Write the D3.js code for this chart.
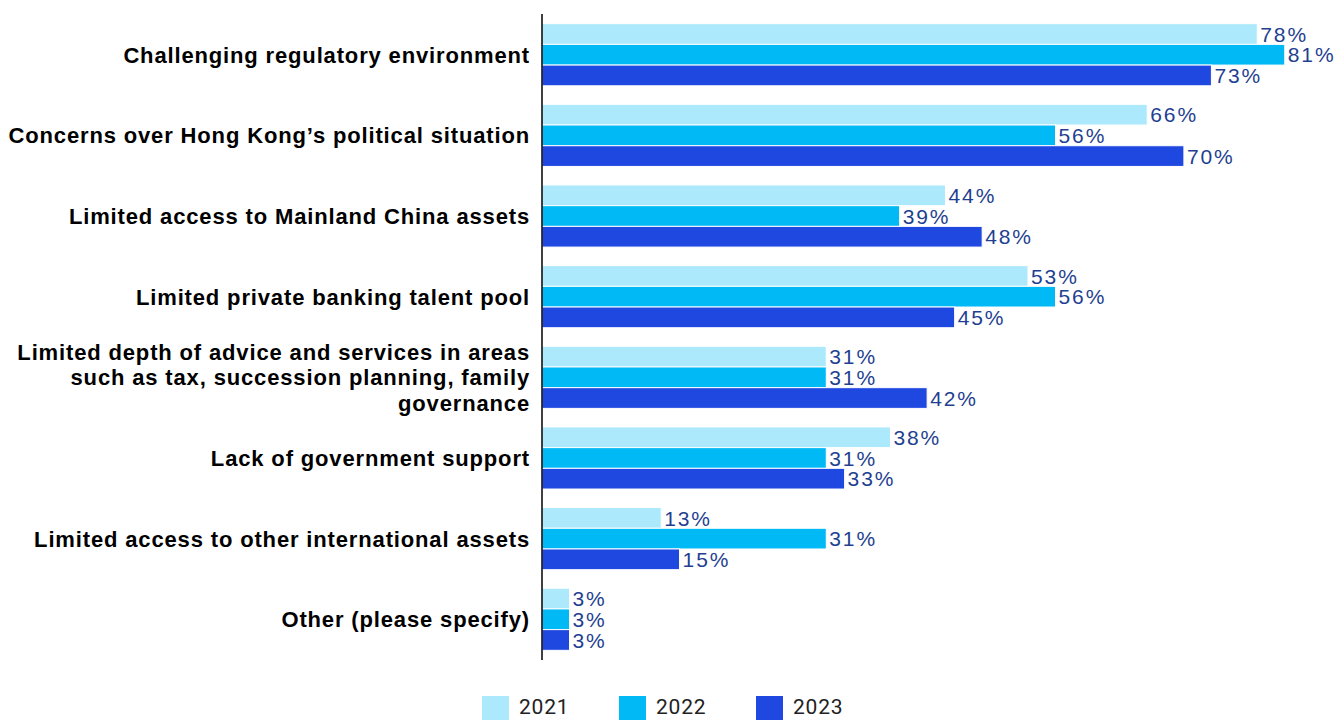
<!DOCTYPE html>
<html>
<head>
<meta charset="utf-8">
<script src="https://cdn.jsdelivr.net/npm/d3@7"></script>
<style>
  html, body { margin: 0; padding: 0; background: #ffffff; }
  svg { display: block; }
</style>
</head>
<body>
<svg id="chart" width="1340" height="720"></svg>
<script>
// Barriers to private banking growth in Hong Kong, share of respondents by survey year
const categories = [
  ["Challenging regulatory environment"],
  ["Concerns over Hong Kong\u2019s political situation"],
  ["Limited access to Mainland China assets"],
  ["Limited private banking talent pool"],
  ["Limited depth of advice and services in areas", "such as tax, succession planning, family", "governance"],
  ["Lack of government support"],
  ["Limited access to other international assets"],
  ["Other (please specify)"]
];
const years = ["2021", "2022", "2023"];
const values2021 = [78, 66, 44, 53, 31, 38, 13, 3];
const values2022 = [81, 56, 39, 56, 31, 31, 31, 3];
const values2023 = [73, 70, 48, 45, 42, 33, 15, 3];
const seriesColors = ["#ade9fd", "#00b9f5", "#1f48e0"];

const series = [values2021, values2022, values2023];
const svg = d3.select("#chart");

const axisX = 542;
const x = d3.scaleLinear().domain([0, 100]).range([axisX, axisX + 917]);
const y = d3.scaleBand()
  .domain(d3.range(categories.length))
  .range([14, 660])
  .paddingInner(0.23)
  .paddingOuter(0.12);
const ySub = d3.scaleBand()
  .domain(years)
  .range([0, y.bandwidth()]);

const groups = svg.append("g").selectAll("g")
  .data(categories)
  .join("g")
  .attr("transform", (d, i) => `translate(0,${y(i)})`);

// bars with value labels at their ends
groups.each(function (cat, i) {
  const g = d3.select(this);
  years.forEach((yr, s) => {
    const v = series[s][i];
    g.append("rect")
      .attr("x", x(0))
      .attr("y", ySub(yr))
      .attr("width", x(v) - x(0))
      .attr("height", ySub.bandwidth())
      .attr("fill", seriesColors[s])
      .attr("stroke", "#ffffff")
      .attr("stroke-width", 1);
    g.append("text")
      .attr("x", x(v) + 3)
      .attr("y", ySub(yr) + ySub.bandwidth() / 2)
      .attr("dy", "0.37em")
      .attr("font-family", "'Liberation Sans', Arial, sans-serif")
      .attr("font-size", 21)
      .attr("letter-spacing", 1.9)
      .attr("fill", "#1f3f91")
      .text(v + "%");
  });
});

// category labels, right-aligned against the axis
groups.each(function (lines, i) {
  const g = d3.select(this);
  const lineH = 25.5;
  const mid = y.bandwidth() / 2;
  const t = g.append("text")
    .attr("text-anchor", "end")
    .attr("font-family", "'Liberation Sans', Arial, sans-serif")
    .attr("font-weight", "bold")
    .attr("font-size", 22)
    .attr("letter-spacing", 0.85)
    .attr("fill", "#000000");
  lines.forEach((ln, k) => {
    t.append("tspan")
      .attr("x", 530)
      .attr("y", mid + (k - (lines.length - 1) / 2) * lineH)
      .attr("dy", "0.36em")
      .text(ln);
  });
});

// vertical axis line
svg.append("line")
  .attr("x1", axisX).attr("x2", axisX)
  .attr("y1", 14).attr("y2", 660)
  .attr("stroke", "#000000")
  .attr("stroke-width", 1.5);

// legend
const legend = svg.append("g").attr("transform", "translate(482,696)");
years.forEach((yr, s) => {
  const lg = legend.append("g").attr("transform", `translate(${s * 137},0)`);
  lg.append("rect").attr("width", 27).attr("height", 24).attr("fill", seriesColors[s]);
  lg.append("text")
    .attr("x", 37).attr("y", 18)
    .attr("font-family", "Roboto, 'Liberation Sans', sans-serif")
    .attr("font-size", 21)
    .attr("letter-spacing", 0.8)
    .attr("fill", "#222222")
    .text(yr);
});
</script>
</body>
</html>
